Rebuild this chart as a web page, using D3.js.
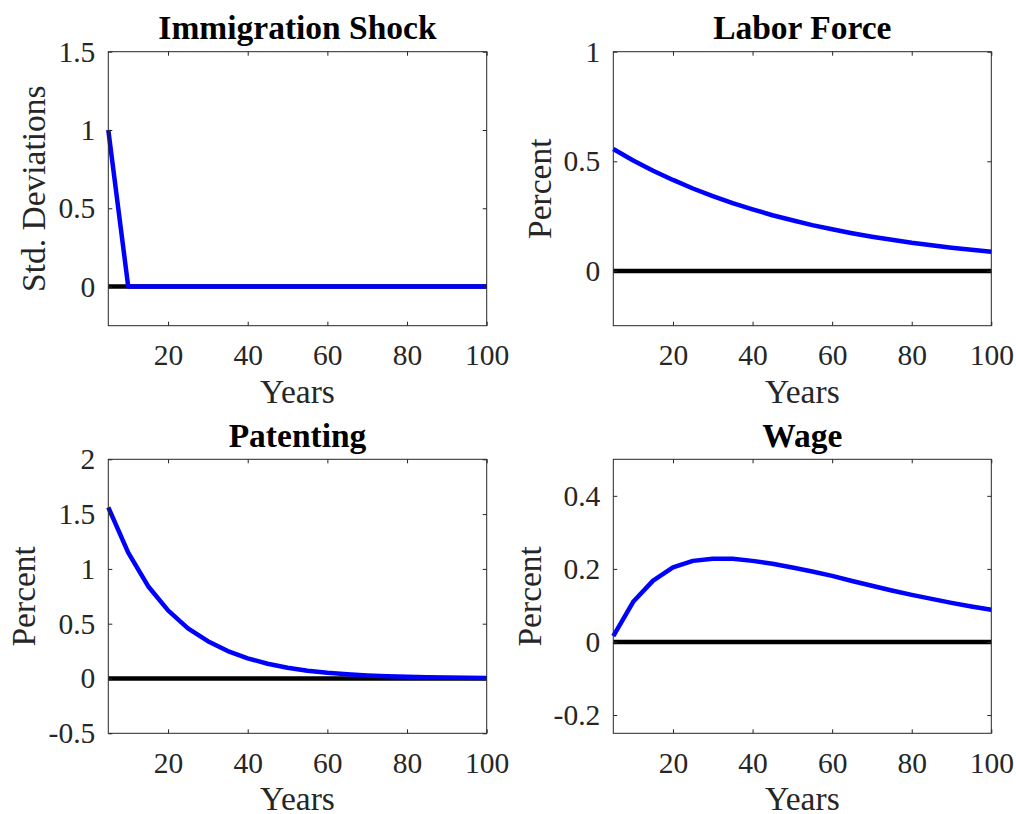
<!DOCTYPE html>
<html>
<head>
<meta charset="utf-8">
<script src="https://cdn.jsdelivr.net/npm/d3@7"></script>
<style>
  body { margin: 0; background: #fff; }
  svg { display: block; }
  text { font-family: "Liberation Serif", "Times New Roman", serif; }
</style>
</head>
<body>
<svg id="chart" width="1016" height="814"></svg>
<script>
// ---- data ----
const years = [5,10,15,20,25,30,35,40,45,50,55,60,65,70,75,80,85,90,95,100];
const immigrationShock = [1,0,0,0,0,0,0,0,0,0,0,0,0,0,0,0,0,0,0,0];
const laborForce = [0.556,0.504,0.457,0.415,0.376,0.341,0.309,0.281,0.254,0.231,0.209,0.190,0.172,0.156,0.142,0.128,0.117,0.106,0.096,0.087];
const patenting = [1.562,1.149,0.842,0.622,0.458,0.340,0.250,0.184,0.135,0.098,0.071,0.052,0.038,0.028,0.020,0.015,0.011,0.008,0.006,0.004];
const wage = [0.016,0.110,0.168,0.204,0.222,0.228,0.228,0.222,0.214,0.204,0.193,0.181,0.167,0.154,0.141,0.129,0.118,0.107,0.097,0.088];
const xTicks = [20,40,60,80,100];
const titles = ["Immigration Shock","Labor Force","Patenting","Wage"];
const yLabels = ["Std. Deviations","Percent","Percent","Percent"];
const yDomains = [[-0.25,1.5],[-0.25,1],[-0.5,2],[-0.25,0.5]];
const yTicks = [[0,0.5,1,1.5],[0,0.5,1],[-0.5,0,0.5,1,1.5,2],[-0.2,0,0.2,0.4]];
const series = [immigrationShock, laborForce, patenting, wage];

// ---- layout ----
const panels = [
  {left:108.3, right:486.7, top:51.7, bottom:325.7, ylabX:45},
  {left:613.3, right:991.3, top:51.7, bottom:325.7, ylabX:551},
  {left:108.3, right:486.7, top:459.3, bottom:733.3, ylabX:35},
  {left:613.3, right:991.3, top:459.3, bottom:733.3, ylabX:541}
];
const axisColor = "#262626";
const svg = d3.select("#chart");

function fmt(v){ return String(v); }

panels.forEach((p, i) => {
  const x = d3.scaleLinear().domain([5,100]).range([p.left, p.right]);
  const y = d3.scaleLinear().domain(yDomains[i]).range([p.bottom, p.top]);
  const g = svg.append("g");

  // zero line
  g.append("path")
    .attr("d", d3.line()([[x(5), y(0)], [x(100), y(0)]]))
    .attr("stroke", "#000").attr("stroke-width", 4.5).attr("fill", "none");

  // series
  g.append("path")
    .datum(years.map((yr, k) => [yr, series[i][k]]))
    .attr("d", d3.line().x(d => x(d[0])).y(d => y(d[1])))
    .attr("stroke", "#0000ff").attr("stroke-width", 4.5)
    .attr("stroke-linejoin", "round").attr("fill", "none");

  // axes
  const styleAxis = sel => {
    sel.select(".domain").remove();
    sel.selectAll(".tick line").attr("stroke", axisColor).attr("stroke-width", 1);
    sel.selectAll(".tick text").attr("fill", axisColor).style("font-size", "29.5px")
      .style("font-family", '"Liberation Serif", serif');
  };
  g.append("g").attr("transform", `translate(0,${p.bottom})`)
    .call(d3.axisBottom(x).tickValues(xTicks).tickFormat(fmt).tickSizeInner(-4).tickSizeOuter(0).tickPadding(18.5))
    .call(styleAxis);
  g.append("g").attr("transform", `translate(0,${p.top})`)
    .call(d3.axisTop(x).tickValues(xTicks).tickFormat("").tickSizeInner(-4).tickSizeOuter(0))
    .call(styleAxis);
  g.append("g").attr("transform", `translate(${p.left},0)`)
    .call(d3.axisLeft(y).tickValues(yTicks[i]).tickFormat(fmt).tickSizeInner(-4).tickSizeOuter(0).tickPadding(13))
    .call(styleAxis);
  g.append("g").attr("transform", `translate(${p.right},0)`)
    .call(d3.axisRight(y).tickValues(yTicks[i]).tickFormat("").tickSizeInner(-4).tickSizeOuter(0))
    .call(styleAxis);

  // box
  g.append("rect")
    .attr("x", p.left).attr("y", p.top)
    .attr("width", p.right - p.left).attr("height", p.bottom - p.top)
    .attr("fill", "none").attr("stroke", axisColor).attr("stroke-width", 1);

  // title
  g.append("text")
    .attr("x", (p.left + p.right) / 2).attr("y", p.top - 12.5)
    .attr("text-anchor", "middle").attr("fill", "#000")
    .style("font-size", "33.5px").style("font-weight", "bold")
    .text(titles[i]);

  // x label
  g.append("text")
    .attr("x", (p.left + p.right) / 2).attr("y", p.bottom + 77)
    .attr("text-anchor", "middle").attr("fill", axisColor)
    .style("font-size", "33.5px")
    .text("Years");

  // y label
  g.append("text")
    .attr("transform", `translate(${p.ylabX},${(p.top + p.bottom) / 2}) rotate(-90)`)
    .attr("text-anchor", "middle").attr("fill", axisColor)
    .style("font-size", "33.5px")
    .text(yLabels[i]);
});
</script>
</body>
</html>
